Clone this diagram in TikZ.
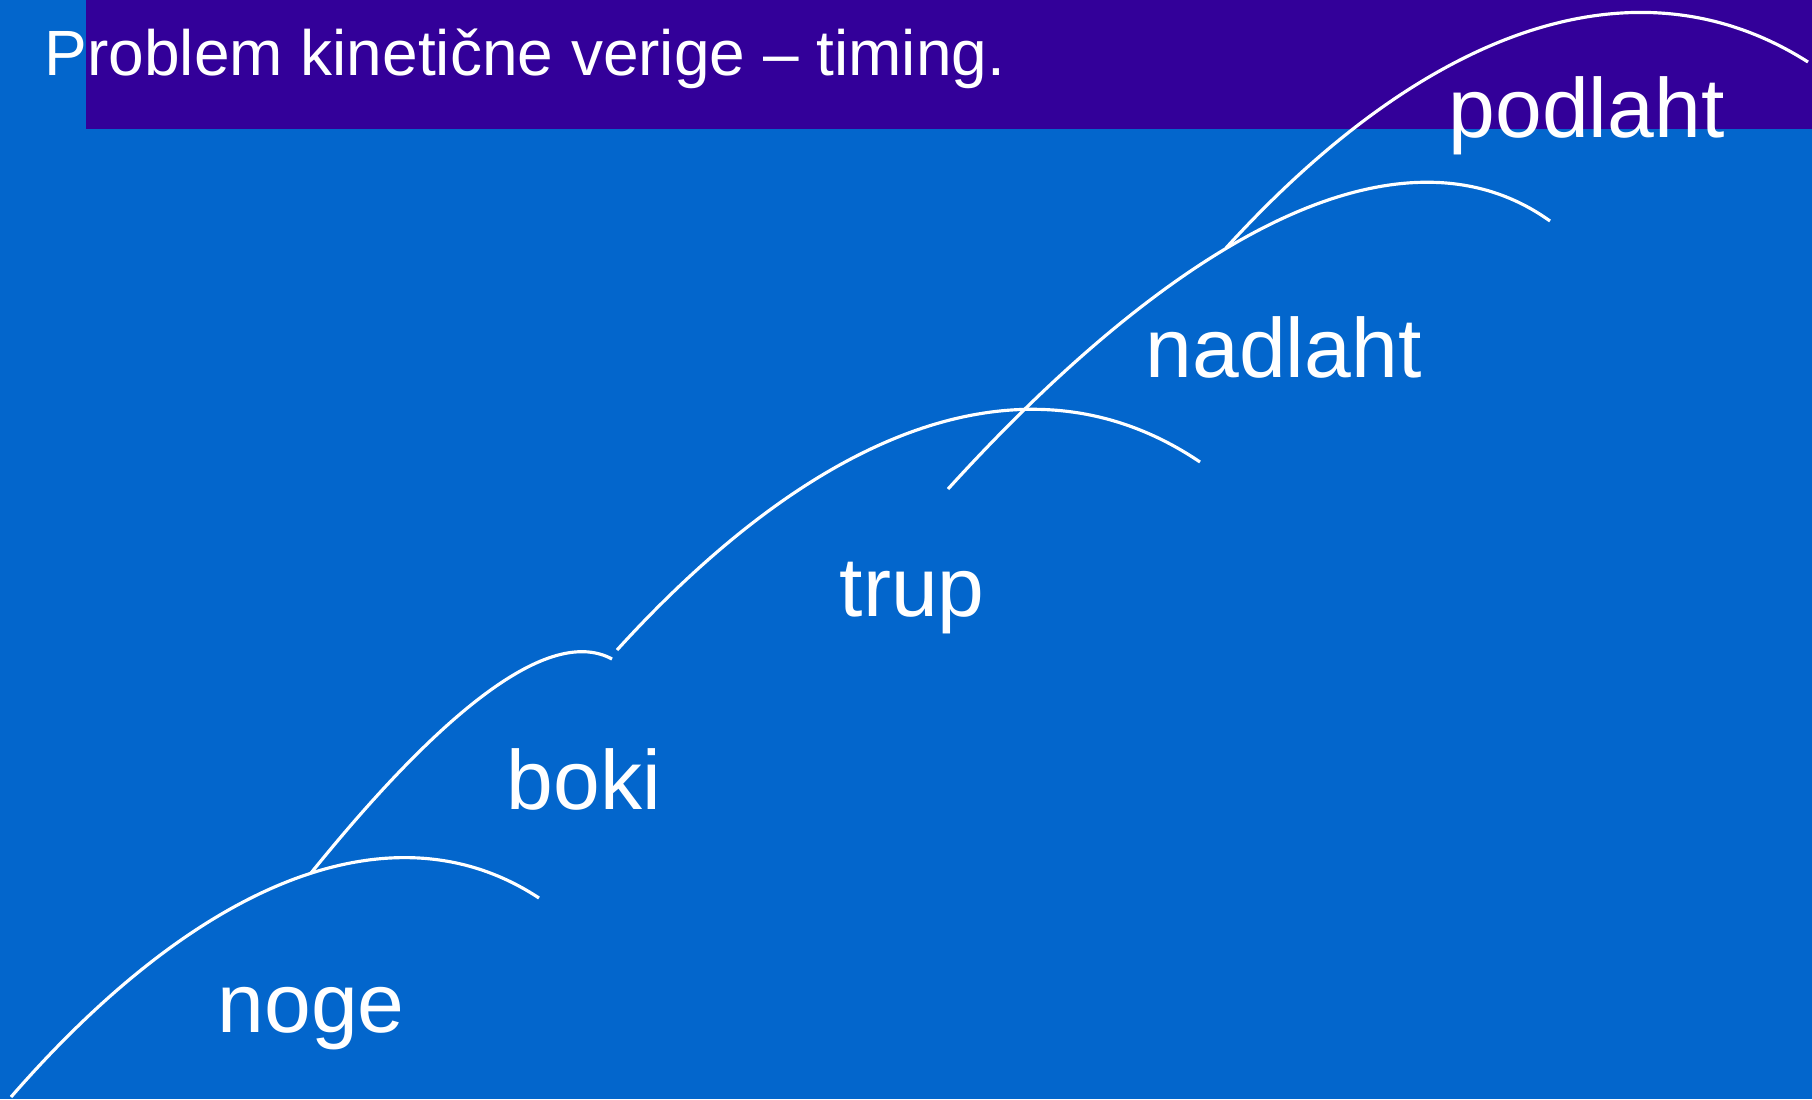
\documentclass[tikz,border=0pt]{standalone}
\usepackage{fontspec}
\setmainfont{Liberation Sans}
\definecolor{slideblue}{RGB}{3,102,204}
\definecolor{titlepurple}{RGB}{51,0,153}

\begin{document}
\begin{tikzpicture}[x=0.01cm, y=-0.01cm,
    seg/.style={draw=white, line width=0.9pt},
    lbl/.style={text=white, anchor=base west, inner sep=0pt, font=\fontsize{23.9}{28}\selectfont}]
        % Background
        \fill[slideblue] (0,0) rectangle (1812,1099);
        \path[use as bounding box] (0,0) rectangle (1812,1099);
        \fill[titlepurple] (86,0) rectangle (1812,129);
        \node[text=white, anchor=base west, inner sep=0pt, font=\fontsize{18.2}{22}\selectfont] (title) at (44,75) {Problem kinetične verige -- timing.};

        % Segment ends
        \coordinate (ground) at (11,1097);
        \coordinate (hip) at (311,873);
        \coordinate (legend) at (539,898);
        \coordinate (hipend) at (612,659);
        \coordinate (trunk) at (617,650);
        \coordinate (trunkend) at (1200,462);
        \coordinate (arm) at (948,489);
        \coordinate (elbow) at (1226,248);
        \coordinate (armend) at (1550,221);
        \coordinate (handend) at (1808,62);

        % Segments
        \draw[seg] (ground) .. controls (206,873) and (398,805) .. (legend);
        \draw[seg] (hip) .. controls (451,700) and (553,627) .. (hipend);
        \draw[seg] (trunk) .. controls (830,416) and (1036,351) .. (trunkend);
        \draw[seg] (arm) .. controls (1199,213) and (1412,122) .. (armend);
        \draw[seg] (elbow) .. controls (1431,23) and (1640,-45) .. (handend);

        % Labels
        \node[lbl] (noge) at (217,1032) {noge};
        \node[lbl] (boki) at (506,809) {boki};
        \node[lbl] (trup) at (839,616) {trup};
        \node[lbl] (nadlaht) at (1145,377) {nadlaht};
        \node[lbl] (podlaht) at (1448,137) {podlaht};
    \end{tikzpicture}
\end{document}
